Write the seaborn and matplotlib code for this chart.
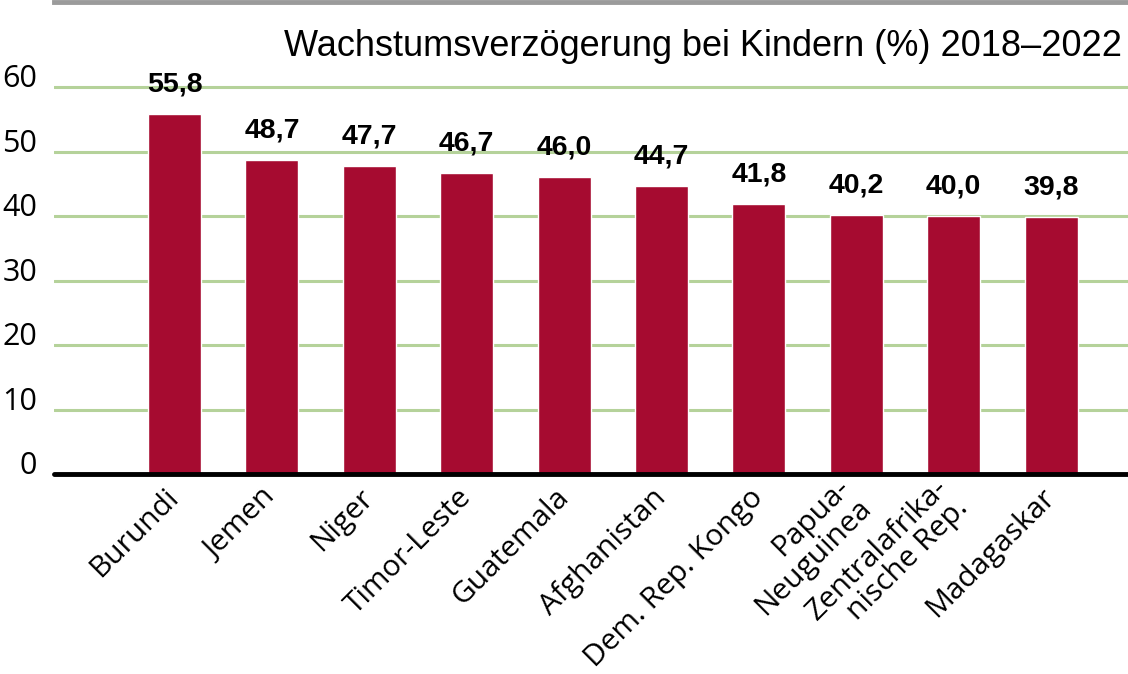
import numpy as np
import pandas as pd
import matplotlib
matplotlib.use("Agg")
import matplotlib.pyplot as plt
import seaborn as sns

# data
countries = ["Burundi", "Jemen", "Niger", "Timor-Leste", "Guatemala", "Afghanistan",
             "Dem. Rep. Kongo", "Papua-\nNeuguinea", "Zentralafrika-\nnische Rep.", "Madagaskar"]
values = [55.8, 48.7, 47.7, 46.7, 46.0, 44.7, 41.8, 40.2, 40.0, 39.8]
y_ticks = [0, 10, 20, 30, 40, 50, 60]
title = "Wachstumsverzögerung bei Kindern (%) 2018–2022"

BAR_COLOR = "#A60B30"
GRID_COLOR = "#B5D29A"

df = pd.DataFrame({"land": countries, "wert": values})

sns.set_theme(style="white")
plt.rcParams["font.family"] = ["Open Sans", "DejaVu Sans"]
plt.rcParams["text.color"] = "black"
plt.rcParams["xtick.color"] = "black"
plt.rcParams["ytick.color"] = "black"

fig = plt.figure(figsize=(11.28, 6.74), dpi=100)
ax = fig.add_axes([54 / 1128, 1 - 474 / 674, 1 - 54 / 1128, (474 - 2) / 674])

sns.barplot(data=df, x="land", y="wert", color=BAR_COLOR, saturation=1,
            width=0.545, ax=ax, zorder=3)

ax.set_xlim(-1.237, 9.79)
ax.set_ylim(0, 73.2)

# gridlines
for t in y_ticks[1:]:
    ax.axhline(t, color=GRID_COLOR, lw=2.2, zorder=1)
ax.axhline(0, color="black", lw=3.5, zorder=4, clip_on=False)

for s in ["left", "right", "bottom"]:
    ax.spines[s].set_visible(False)
ax.spines["top"].set_color("#9B9B9B")
ax.spines["top"].set_linewidth(3.5)

ax.set_yticks(y_ticks)
ax.set_yticklabels([str(t) for t in y_ticks], fontsize=22, va="baseline")
ax.tick_params(axis="y", length=0, pad=12)
ax.set_xticks(range(len(countries)))
ax.set_xticklabels(countries, rotation=45, ha="right", va="center",
                   rotation_mode="anchor", fontsize=21.5, linespacing=1.0)
ax.tick_params(axis="x", length=0, pad=14)
ax.set_xlabel("")
ax.set_ylabel("")

# value labels
for i, v in enumerate(values):
    ax.text(i, v + 2.6, f"{v:.1f}".replace(".", ","), ha="center", va="bottom",
            fontsize=20.5, fontweight="bold", family="Liberation Sans", zorder=5)

fig.text(1 - 6 / 1128, 1 - 47 / 674, title, ha="right", va="center",
         fontsize=26, family="Liberation Sans")

fig.savefig("out.png", dpi=100)
